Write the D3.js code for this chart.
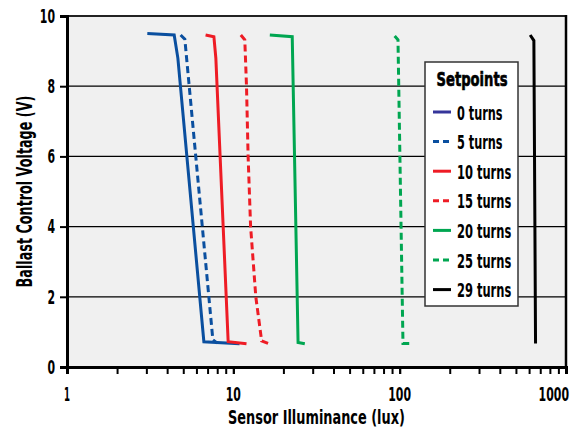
<!DOCTYPE html>
<html><head><meta charset="utf-8">
<script src="https://cdn.jsdelivr.net/npm/d3@7"></script>
<style>
body{margin:0;background:#fff;}
text{font-family:"DejaVu Sans",sans-serif;}
</style></head>
<body><svg id="c" width="578" height="431"></svg>
<script>
const seriesNames = ["0 turns","5 turns","10 turns","15 turns","20 turns","25 turns","29 turns"];
const luxValues = [
  [3.04, 4.41, 4.64, 6.65, 10.9],
  [4.82, 5.11, 7.53, 8.0],
  [6.81, 7.64, 7.85, 9.31, 12.0],
  [11.09, 11.72, 12.0, 12.27, 12.7, 13.65, 14.8, 16.2],
  [16.57, 22.6, 22.9, 24.5, 26.9],
  [93.3, 97.7, 104.7, 114.8],
  [609, 641, 656]
];
const voltValues = [
  [9.50, 9.46, 8.8, 0.72, 0.66],
  [9.46, 9.34, 0.78, 0.68],
  [9.46, 9.41, 8.8, 0.72, 0.66],
  [9.46, 9.32, 8, 6, 4, 2, 0.74, 0.67],
  [9.46, 9.41, 8, 0.70, 0.66],
  [9.43, 9.32, 0.67, 0.67],
  [9.46, 9.3, 0.67]
];
const xTickLabels = [1, 10, 100, 1000];
const yTickLabels = [0, 2, 4, 6, 8, 10];
const lineColors = ["#0a4f9f","#0a4f9f","#ee1c25","#ee1c25","#00a651","#00a651","#000000"];
const legendColors = ["#35359a","#0a4f9f","#ee1c25","#ee1c25","#00a651","#00a651","#000000"];
const dashed = [false,true,false,true,false,true,false];

const W=578,H=431,m={l:67,t:16,r:12,b:64};
const svg=d3.select("#c");
const x=d3.scaleLog().domain([1,1000]).range([m.l,W-m.r]);
const y=d3.scaleLinear().domain([0,10]).range([H-m.b,m.t]);

// condensed text: draw, measure, then scale horizontally to target width
function condText(parent, tx, ty, str, size, opts){
  opts = opts||{};
  const g = parent.append("g");
  const t = g.append("text").attr("x",0).attr("y",0)
    .attr("font-size",size).attr("font-weight",opts.weight||"bold")
    .attr("text-anchor",opts.anchor||"start").attr("fill","#000").text(str);
  if(opts.dy) t.attr("dy",opts.dy);
  if(opts.stroke) t.attr("stroke","#000").attr("stroke-width",opts.stroke);
  const nat = t.node().getComputedTextLength();
  const sx = opts.width ? opts.width/nat : 0.66;
  g.attr("transform",`translate(${tx},${ty})${opts.rotate?` rotate(${opts.rotate})`:""} scale(${sx},1)`);
  return g;
}
const digitW = s => s==="1" ? 6 : s.length*7.6;

svg.append("rect").attr("x",m.l).attr("y",m.t).attr("width",W-m.r-m.l).attr("height",H-m.b-m.t)
  .attr("fill","#f0f0f0").attr("stroke","#222").attr("stroke-width",2);

// gridlines
svg.append("g").selectAll("line").data(yTickLabels.filter(v=>v>0&&v<10)).join("line")
  .attr("x1",m.l).attr("x2",W-m.r).attr("y1",d=>y(d)).attr("y2",d=>y(d))
  .attr("stroke","#000").attr("stroke-width",1.2);

svg.append("line").attr("x1",W-m.r).attr("x2",W-m.r).attr("y1",m.t-1).attr("y2",H-m.b)
  .attr("stroke","#000").attr("stroke-width",2.5);

// axes
const minorTicks=[];
for(let d=1; d<1000; d*=10) for(let k=1;k<=10;k++) minorTicks.push(d*k);
const xAxis=d3.axisBottom(x).tickValues(minorTicks).tickSize(7).tickFormat("");
const gx=svg.append("g").attr("transform",`translate(0,${H-m.b})`).call(xAxis);
gx.select(".domain").attr("stroke","#000").attr("stroke-width",3);
gx.selectAll(".tick line").attr("stroke","#000").attr("stroke-width",2);
const xlG = svg.append("g");
xTickLabels.forEach((d,i)=>{
  const last = i===xTickLabels.length-1;
  condText(xlG, last ? W-9 : x(d), H-m.b+34, String(d), 19,
    {anchor: last ? "end" : "middle", width: digitW(String(d))});
});

const yAxis=d3.axisLeft(y).tickValues(yTickLabels).tickSize(7).tickFormat("");
const gy=svg.append("g").attr("transform",`translate(${m.l},0)`).call(yAxis);
gy.select(".domain").attr("stroke","#000").attr("stroke-width",3);
gy.selectAll(".tick line").attr("stroke","#000").attr("stroke-width",2);
const ylG = svg.append("g");
yTickLabels.forEach(d=>{
  condText(ylG, m.l-12, y(d), String(d), 19, {anchor:"end", dy:"0.36em", width: digitW(String(d))});
});

// titles
condText(svg, (m.l+W-m.r)/2, H-7, "Sensor Illuminance (lux)", 20, {anchor:"middle", width:177});
condText(svg, 32, (m.t+H-m.b)/2, "Ballast Control Voltage (V)", 21, {anchor:"middle", width:192, rotate:-90});

// lines
const line=d3.line().x(d=>x(d[0])).y(d=>y(d[1]));
seriesNames.forEach((n,i)=>{
  const pts=luxValues[i].map((v,j)=>[v,voltValues[i][j]]);
  svg.append("path").datum(pts).attr("d",line).attr("fill","none")
    .attr("stroke",lineColors[i]).attr("stroke-width",3)
    .attr("stroke-dasharray",dashed[i]?"7,4":null);
});

// legend
const lg=svg.append("g");
lg.append("rect").attr("x",425).attr("y",62).attr("width",93).attr("height",244)
  .attr("fill","#fff").attr("stroke","#333").attr("stroke-width",1.5);
condText(lg, 472, 86, "Setpoints", 20, {anchor:"middle", width:71, stroke:0.7});
seriesNames.forEach((n,i)=>{
  const yy=112+i*29.6;
  lg.append("line").attr("x1",433).attr("x2",451).attr("y1",yy).attr("y2",yy)
    .attr("stroke",legendColors[i]).attr("stroke-width",3)
    .attr("stroke-dasharray",dashed[i]?"6,4":null);
  condText(lg, 457, yy+7.5, n, 20, {width: n.length===7 ? 45.6 : 54.3});
});
</script></body></html>
